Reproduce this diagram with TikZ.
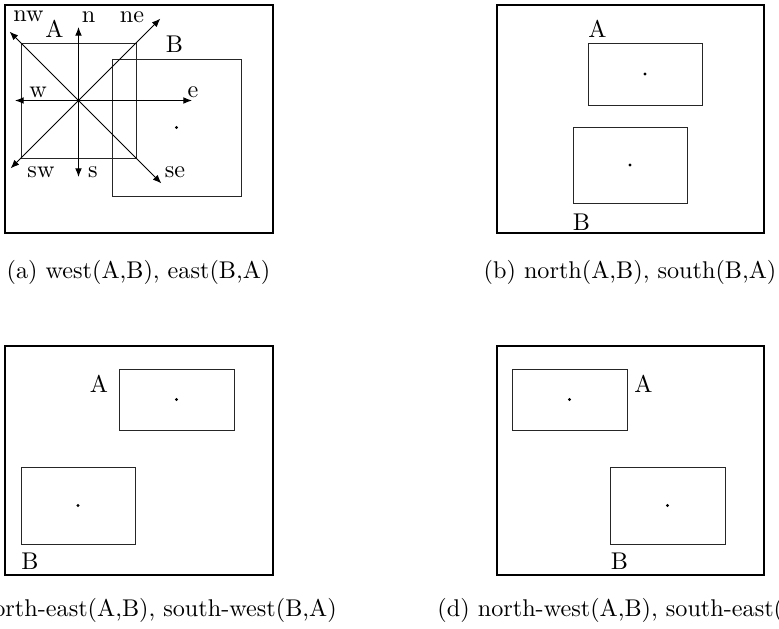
\documentclass[tikz,border=0pt]{standalone}
\usetikzlibrary{arrows.meta}
\begin{document}
\begin{tikzpicture}[x=0.4132pt,y=-0.4132pt,
  frame/.style={draw,line width=0.8pt},
  box/.style={draw,line width=0.38pt,black!85},
  dirarrow/.style={line width=0.42pt,-{Latex[length=3.6pt,width=2.8pt]}},
  lbl/.style={inner sep=0pt,anchor=base},
  dotc/.style={fill,circle,inner sep=0pt,minimum size=1.3pt}]
\useasboundingbox (0,0) rectangle (779,628);
% ---------- panel (a)
\draw[frame] (5,5) rectangle (273,233);
\draw[box] (21,43) rectangle (136,158);
\draw[box] (112,59) rectangle (241,196);
\node[dotc] (adotB) at (176.5,127.5) {};
\coordinate (ac) at (78.5,100.5);
\coordinate (an) at (78.5,27);
\coordinate (as) at (78.5,177);
\coordinate (aw) at (15,100.5);
\coordinate (ae) at (192,100.5);
\coordinate (anw) at (9.5,31.5);
\coordinate (ane) at (160.5,18.5);
\coordinate (asw) at (10.5,168.5);
\coordinate (ase) at (161.5,183.5);
\foreach \t in {an,as,aw,ae,anw,ane,asw,ase} \draw[dirarrow] (ac) -- (\t);
\node[lbl] (lnw) at (28.5,21.7) {nw};
\node[lbl] (ln) at (88.5,22) {n};
\node[lbl] (lne) at (132,22) {ne};
\node[lbl] (laA) at (54.5,37.7) {A};
\node[lbl] (laB) at (174.5,52) {B};
\node[lbl] (lw) at (38,97) {w};
\node[lbl] (le) at (193,97) {e};
\node[lbl] (lsw) at (41,177) {sw};
\node[lbl] (ls) at (93,177) {s};
\node[lbl] (lse) at (175,177) {se};
\node[lbl] (capa) at (138.5,278) {(a) west(A,B), east(B,A)};
% ---------- panel (b)
\draw[frame] (497,5) rectangle (764,233);
\draw[box] (588,43) rectangle (702,105);
\draw[box] (573,127) rectangle (687,203);
\node[dotc] (bdotA) at (645,74) {};
\node[dotc] (bdotB) at (630,165) {};
\node[lbl] (lbA) at (597.5,37) {A};
\node[lbl] (lbB) at (581.5,230) {B};
\node[lbl] (capb) at (630,278) {(b) north(A,B), south(B,A)};
% ---------- panel (c)
\draw[frame] (5,346) rectangle (273,575);
\draw[box] (119,369) rectangle (234,430);
\draw[box] (21,467) rectangle (135,544);
\node[dotc] (cdotA) at (176.5,399.5) {};
\node[dotc] (cdotB) at (78,505.5) {};
\node[lbl] (lcA) at (99,392) {A};
\node[lbl] (lcB) at (30,569) {B};
\node[lbl] (capc) at (139.5,616) {(c) north-east(A,B), south-west(B,A)};
% ---------- panel (d)
\draw[frame] (497,346) rectangle (764,575);
\draw[box] (512,369) rectangle (627,430);
\draw[box] (610,467) rectangle (725,544);
\node[dotc] (ddotA) at (569.5,399.5) {};
\node[dotc] (ddotB) at (667.5,505.5) {};
\node[lbl] (ldA) at (643.5,392) {A};
\node[lbl] (ldB) at (619.5,569) {B};
\node[lbl] (capd) at (636,616) {(d) north-west(A,B), south-east(B,A)};
\end{tikzpicture}
\end{document}
